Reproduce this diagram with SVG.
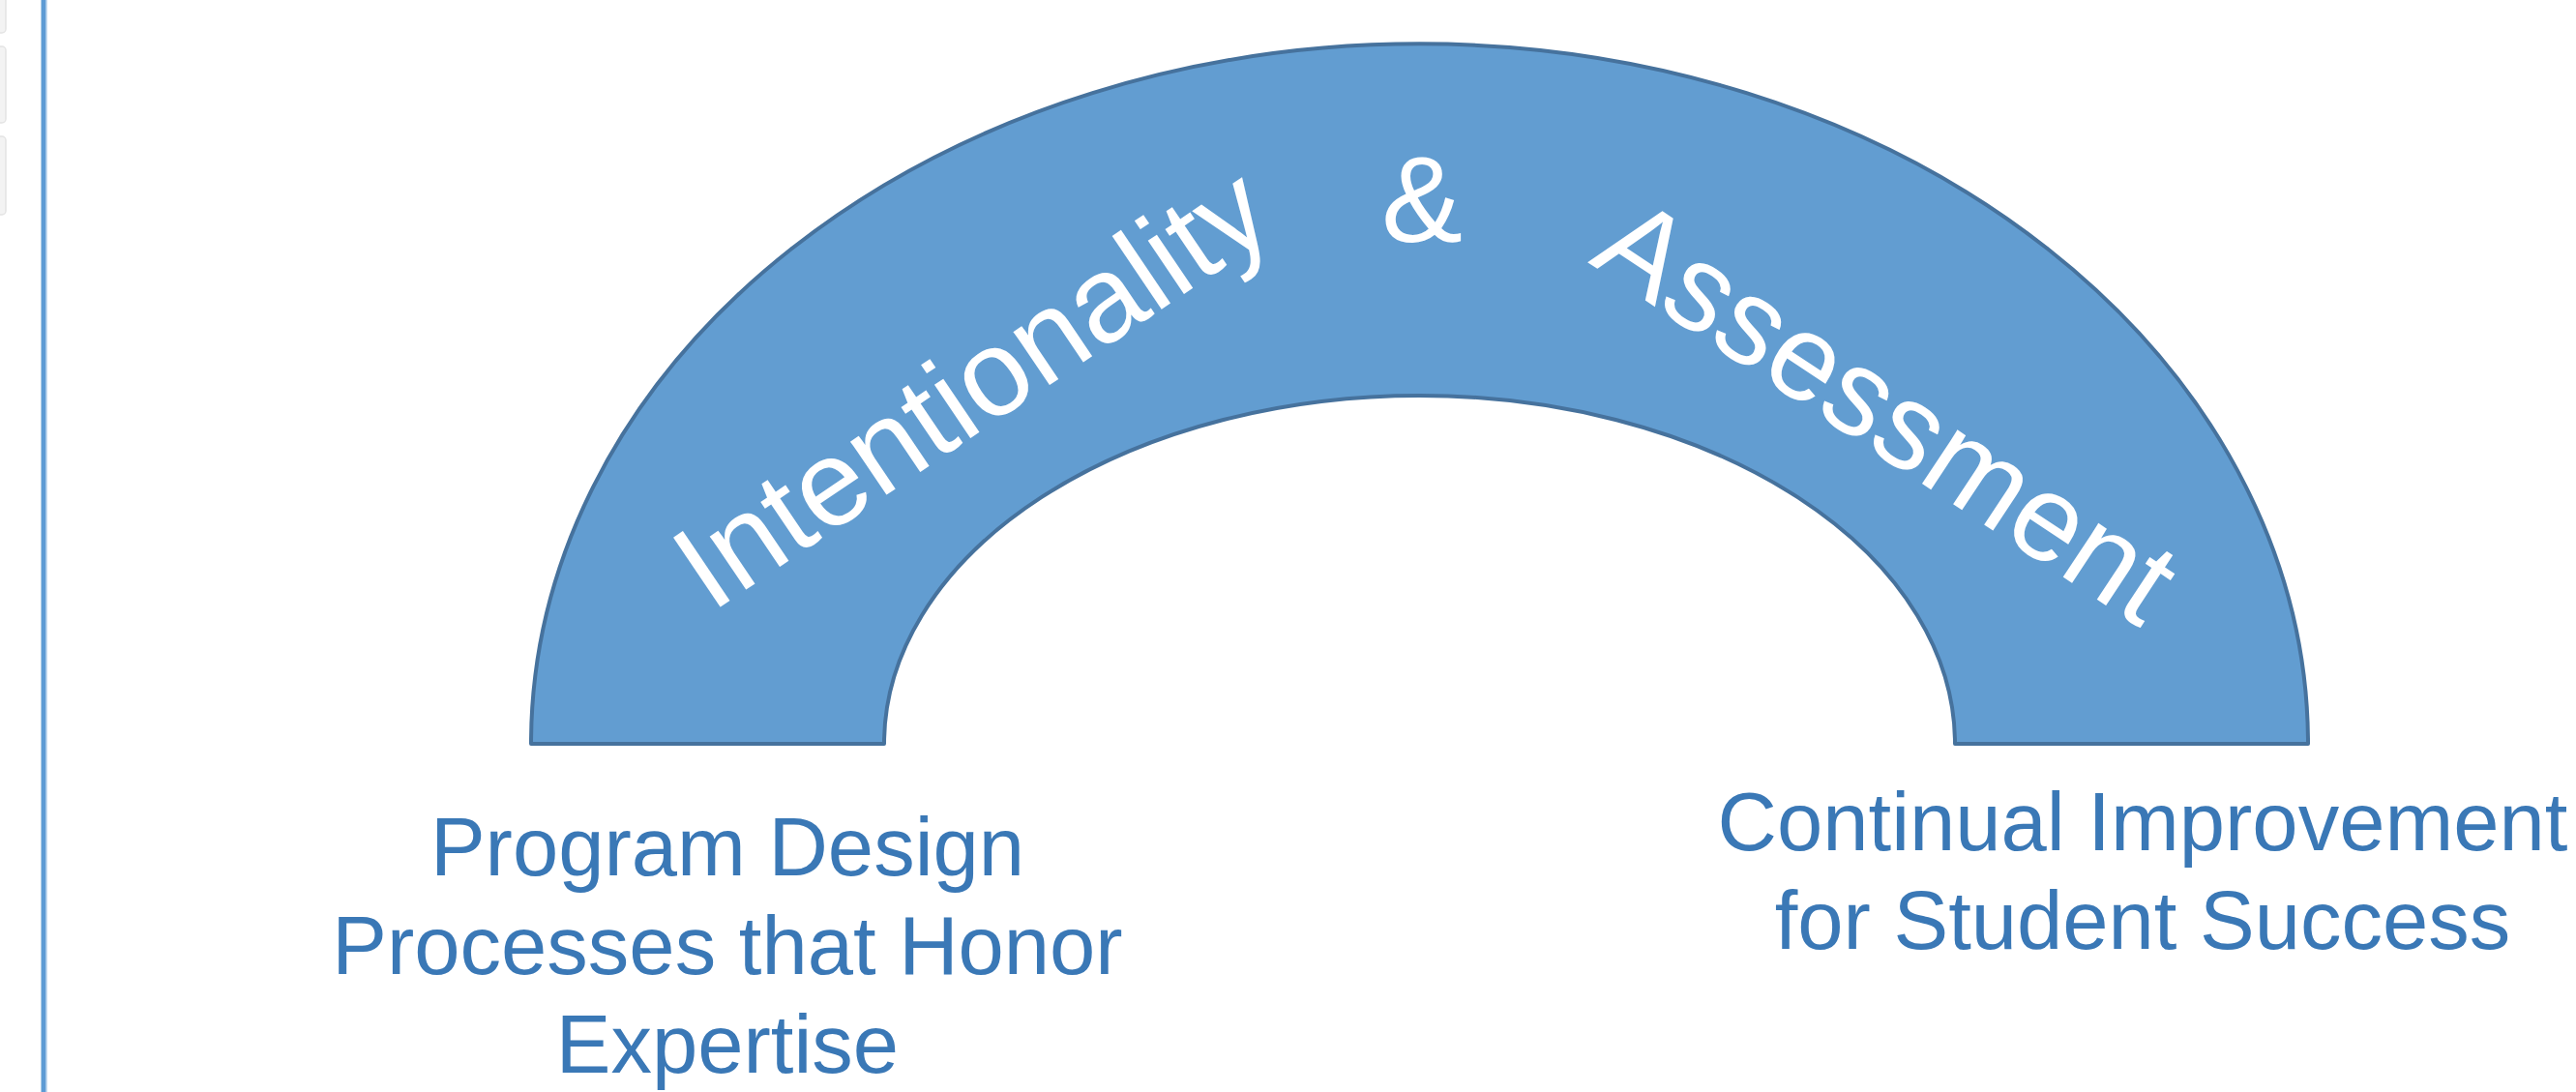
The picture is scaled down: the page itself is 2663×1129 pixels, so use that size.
<svg xmlns="http://www.w3.org/2000/svg" width="2663" height="1129" viewBox="0 0 2663 1129">
  <style>
    .band { fill: #629dd1; stroke: #46729d; stroke-width: 4; stroke-linejoin: round; }
    .arc-word { font-family: "Liberation Sans", Arial, sans-serif; font-size: 126px; fill: #ffffff; }
    .caption { font-family: "Liberation Sans", Arial, sans-serif; font-size: 85px; fill: #3a78b6; text-anchor: middle; }
    .tab { fill: #f3f3f3; stroke: #e4e4e4; stroke-width: 1.5; }
  </style>

  <rect x="0" y="0" width="2663" height="1129" fill="#ffffff"/>

  <!-- side panel tabs and rule -->
  <g id="side-panel">
    <rect class="tab" x="-12" y="-6" width="18" height="40" rx="4"/>
    <rect class="tab" x="-12" y="48" width="18" height="79" rx="4"/>
    <rect class="tab" x="-12" y="141" width="18" height="81" rx="4"/>
    <rect x="42.5" y="0" width="4.5" height="1129" fill="#5e9bd4"/>
    <rect x="47" y="0" width="1.6" height="1129" fill="#a3c6e8"/>
  </g>

  <!-- block arc -->
  <g id="arch">
    <path class="band" d="M 549 769 A 918.5 724 0 0 1 2386 769 L 2021 769 A 553.5 360 0 0 0 914 769 Z"/>
  </g>

  <!-- lettering set along the band -->
  <g id="arch-text">
    <text class="arc-word" x="735" y="634" transform="rotate(-34 735 634)">Intentionality</text>
    <text class="arc-word" x="1470" y="250" text-anchor="middle">&amp;</text>
    <text class="arc-word" x="1641" y="271" transform="rotate(33.5 1641 271)">Assessment</text>
  </g>

  <g id="label-left">
    <text class="caption" x="752" y="905">Program Design</text>
    <text class="caption" x="752" y="1007">Processes that Honor</text>
    <text class="caption" x="752" y="1109">Expertise</text>
  </g>

  <g id="label-right">
    <text class="caption" x="2215" y="879">Continual Improvement</text>
    <text class="caption" x="2215" y="981">for Student Success</text>
  </g>
</svg>
